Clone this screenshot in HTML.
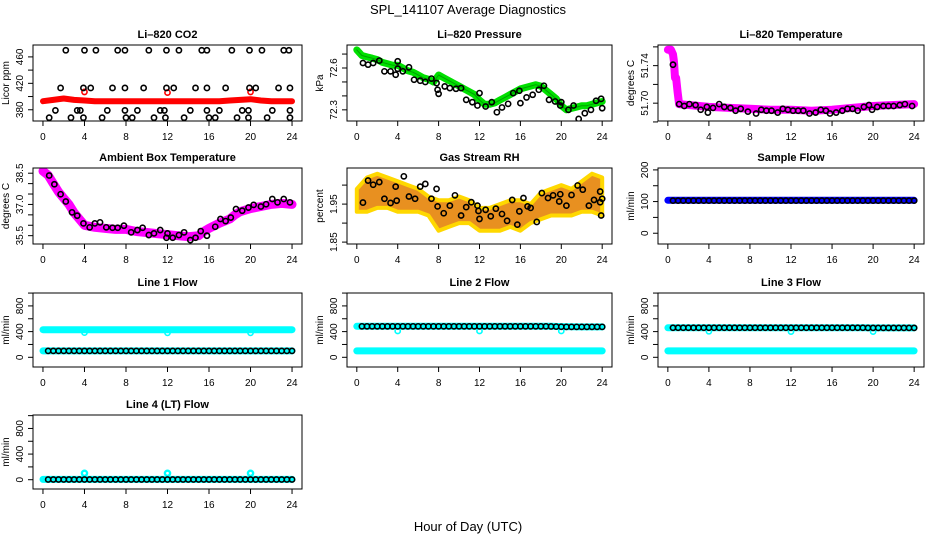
<!DOCTYPE html>
<html><head><meta charset="utf-8"><style>
html,body{margin:0;padding:0;background:#fff;}
svg{display:block;font-family:"Liberation Sans",Arial,sans-serif;}
</style></head><body>
<svg id="chart" width="936" height="540" viewBox="0 0 936 540">
<text x="468" y="14" text-anchor="middle" font-size="13">SPL_141107  Average Diagnostics</text>
<text x="468" y="531" text-anchor="middle" font-size="13">Hour of Day (UTC)</text>
</svg>
<script>
// ---------- data ----------
const hours = [0,1,2,3,4,5,6,7,8,9,10,11,12,13,14,15,16,17,18,19,20,21,22,23,24];
const halfHours = [0.5,1,1.5,2,2.5,3,3.5,4,4.5,5,5.5,6,6.5,7,7.5,8,8.5,9,9.5,10,10.5,11,11.5,12,12.5,13,13.5,14,14.5,15,15.5,16,16.5,17,17.5,18,18.5,19,19.5,20,20.5,21,21.5,22,22.5,23,23.5,24];
const xTicks = [0,4,8,12,16,20,24];

// CO2
const co2Red = [393,395,397,395,394,393,393,393,393,393,393,393,393,393,393,393,393,393,394,395,396,394,393,393,393];
const co2RedOutHours = [4,12,20];
const co2RedOutVals = [407,406,407];
const co2HighHours = [2.2,4.0,5.1,7.2,7.9,10.2,11.9,13.1,15.3,15.8,18.2,19.9,21.1,23.2,23.7];
const co2HighVal = 470;
const co2MidHours = [1.7,3.9,4.6,6.7,7.9,9.7,11.9,12.6,14.7,15.8,17.6,19.9,20.5,22.7,23.8];
const co2MidVal = 413;
const co2LowHours = [1.2,3.3,3.6,6.2,7.9,9.1,11.3,11.7,14.2,15.8,17.0,19.2,19.8,22.1,23.8];
const co2LowVal = 379;
const co2MinHours = [0.6,2.7,3.9,5.7,8.0,8.6,10.7,11.8,13.6,16.0,16.6,18.7,19.8,21.6,23.8];
const co2MinVal = 368;

// Pressure
const presGreenHours = [0,0.5,1,1.5,2,2.5,3,3.5,4,4.5,5,5.5,6,6.5,7,7.5,8,8.5,9,9.5,10,10.5,11,11.5,12,12.5,13,13.5,14,14.5,15,15.5,16,16.5,17,17.5,18,18.5,19,19.5,20,20.5,21,21.5,22,22.5,23,23.5,24];
const presGreen = [72.73,72.69,72.68,72.67,72.66,72.64,72.63,72.62,72.62,72.6,72.58,72.57,72.55,72.53,72.52,72.5,72.55,72.53,72.51,72.49,72.47,72.45,72.43,72.41,72.37,72.34,72.34,72.35,72.37,72.39,72.41,72.43,72.45,72.46,72.47,72.48,72.47,72.44,72.41,72.38,72.33,72.3,72.31,72.32,72.33,72.33,72.34,72.35,72.36];
const presBlackHours = [0.6,1.1,1.6,2.2,2.7,3.3,3.8,4.0,4.0,4.5,5.1,5.6,6.2,6.7,7.3,7.8,7.9,8.0,8.6,9.1,9.7,10.2,10.7,11.3,11.8,12.0,12.6,13.2,13.7,14.2,14.8,15.3,15.9,16.0,16.6,17.2,17.8,18.3,18.8,19.4,19.9,20.0,20.7,21.2,21.7,22.3,22.9,23.4,23.9,24.0];
const presBlack = [72.636,72.624,72.636,72.653,72.576,72.576,72.552,72.595,72.648,72.576,72.605,72.516,72.509,72.5,72.524,72.492,72.444,72.415,72.468,72.456,72.451,72.456,72.372,72.355,72.331,72.42,72.324,72.355,72.283,72.317,72.343,72.42,72.437,72.348,72.389,72.408,72.444,72.473,72.372,72.36,72.331,72.355,72.3,72.331,72.235,72.276,72.3,72.365,72.379,72.312];

// Li-820 temperature
const tempMagHours = [0,0.3,0.5,0.6,0.7,0.8,0.95,1.1,2,4,6,8,10,12,14,16,18,20,22,24];
const tempMag = [51.757,51.757,51.752,51.744,51.727,51.727,51.712,51.699,51.698,51.696,51.695,51.694,51.693,51.693,51.692,51.693,51.695,51.697,51.698,51.699];
const tempBlackHours = [0.5,1.1,1.6,2.1,2.7,3.2,3.8,3.9,4.4,5.0,5.5,6.1,6.6,7.1,7.8,8.6,9.1,9.6,10.1,10.7,11.2,11.7,12.2,12.7,13.2,13.8,14.4,14.9,15.4,15.8,16.4,17.0,17.5,18.0,18.5,19.1,19.6,19.9,20.4,21.0,21.5,22.0,22.6,23.1,23.8];
const tempBlack = [51.741,51.699,51.697,51.699,51.698,51.693,51.696,51.69,51.695,51.699,51.696,51.695,51.692,51.694,51.691,51.689,51.693,51.692,51.692,51.69,51.694,51.693,51.692,51.692,51.692,51.689,51.69,51.693,51.692,51.689,51.69,51.692,51.694,51.694,51.692,51.696,51.698,51.693,51.696,51.697,51.697,51.697,51.698,51.699,51.697];

// Ambient box temperature
const ambMagHours = [0,0.5,1,1.5,2,2.5,3,3.5,4,5,6,7,8,9,10,11,12,13,14,15,15.5,16,17,18,18.5,19,20,21,22,23,24];
const ambMag = [38.6,38.4,38.0,37.6,37.3,37.0,36.6,36.3,36.0,35.9,35.85,35.8,35.8,35.7,35.65,35.6,35.55,35.5,35.45,35.5,35.7,35.85,36.1,36.3,36.5,36.65,36.8,36.9,37.0,37.05,37.0];
const ambBlackHours = [0.6,1.1,1.7,2.2,2.8,3.3,3.9,4.5,5.0,5.5,6.1,6.7,7.2,7.8,8.5,9.1,9.6,10.2,10.7,11.3,11.9,12.0,12.5,13.1,13.6,14.2,14.7,15.2,15.8,16.6,17.1,17.6,18.1,18.6,19.2,19.8,20.3,21.0,21.5,22.1,22.6,23.2,23.8];
const ambBlack = [38.39,37.97,37.49,37.14,36.62,36.46,36.09,35.9,36.09,36.14,35.9,35.88,35.88,35.98,35.66,35.77,35.88,35.53,35.61,35.77,35.4,35.61,35.4,35.53,35.66,35.29,35.4,35.72,35.5,35.93,36.3,36.2,36.37,36.78,36.7,36.85,36.98,36.9,37.01,37.26,37.1,37.26,37.1];

// Gas stream RH
const rhUpper = [1.99,2.02,2.03,2.02,2.01,2.0,1.99,1.97,1.96,1.96,1.97,1.96,1.94,1.94,1.95,1.96,1.96,1.95,1.98,1.99,2.0,1.99,2.01,2.03,2.02];
const rhLower = [1.93,1.93,1.94,1.94,1.93,1.93,1.93,1.92,1.88,1.89,1.9,1.9,1.88,1.88,1.88,1.89,1.88,1.9,1.91,1.92,1.92,1.92,1.93,1.93,1.92];
const rhBlackHours = [0.6,1.1,1.6,2.2,2.7,3.3,3.8,3.9,4.6,5.1,5.7,6.2,6.7,7.3,7.8,7.9,8.5,9.1,9.6,10.2,10.7,11.2,11.8,11.9,12.0,12.6,13.1,13.6,14.2,14.7,15.2,15.7,15.9,16.3,16.7,17.0,17.6,18.1,18.7,19.2,19.8,19.9,20.5,21.0,21.6,22.1,22.7,23.2,23.8,23.8,23.9,24.0];
const rhBlack = [1.954,2.012,2.001,2.008,1.964,1.953,1.996,1.959,2.023,1.97,1.964,1.996,2.003,1.964,1.99,1.944,1.926,1.946,1.973,1.92,1.942,1.955,1.946,1.932,1.911,1.935,1.918,1.938,1.924,1.906,1.961,1.896,1.931,1.966,1.944,1.94,1.903,1.979,1.966,1.973,1.957,1.976,1.946,1.974,1.999,1.988,1.946,1.961,1.983,1.955,1.92,1.964];

// Sample flow
const sampleBlue = [104,104,104,104,104,104,104,104,104,104,104,104,104,104,104,104,104,104,104,104,104,104,104,104,104];
const sampleBlack = [103,103,103,103,103,103,103,103,103,103,103,103,103,103,103,103,103,103,103,103,103,103,103,103,103,103,103,103,103,103,103,103,103,103,103,103,103,103,103,103,103,103,103,103,103,103,103,103];

// Line flows
const dipHours = [4,12,20];
const line1CyanHigh = [430,430,430,430,430,430,430,430,430,430,430,430,430,430,430,430,430,430,430,430,430,430,430,430,430];
const line1CyanLow = [100,100,100,100,100,100,100,100,100,100,100,100,100,100,100,100,100,100,100,100,100,100,100,100,100];
const line1Dips = [385,380,380];
const line1Black = [100,100,100,100,100,100,100,100,100,100,100,100,100,100,100,100,100,100,100,100,100,100,100,100,100,100,100,100,100,100,100,100,100,100,100,100,100,100,100,100,100,100,100,100,100,100,100,100];
const line2CyanHigh = [482,482,482,482,482,482,482,482,482,482,482,482,482,482,482,482,482,482,482,482,478,476,474,474,474];
const line2CyanLow = [100,100,100,100,100,100,100,100,100,100,100,100,100,100,100,100,100,100,100,100,100,100,100,100,100];
const line2Dips = [410,410,410];
const line2Black = [482,482,482,482,482,482,482,482,482,482,482,482,482,482,482,482,482,482,482,482,482,482,482,482,482,482,482,482,482,482,482,482,482,482,482,482,482,480,478,476,474,474,474,474,474,474,474,474];
const line3CyanHigh = [460,460,460,460,460,460,460,460,460,460,460,460,460,460,460,460,460,460,460,460,458,458,458,458,458];
const line3CyanLow = [100,100,100,100,100,100,100,100,100,100,100,100,100,100,100,100,100,100,100,100,100,100,100,100,100];
const line3Dips = [405,400,400];
const line3Black = [460,460,460,460,460,460,460,460,460,460,460,460,460,460,460,460,460,460,460,460,460,460,460,460,460,460,460,460,460,460,460,460,460,460,460,460,460,460,458,458,458,458,458,458,458,458,458,458];
const line4Cyan = [5,5,5,5,5,5,5,5,5,5,5,5,5,5,5,5,5,5,5,5,5,5,5,5,5];
const line4Dips = [100,100,100];
const line4Black = [3,3,3,3,3,3,3,3,3,3,3,3,3,3,3,3,3,3,3,3,3,3,3,3,3,3,3,3,3,3,3,3,3,3,3,3,3,3,3,3,3,3,3,3,3,3,3,3];

// ---------- drawing ----------
const NS = 'http://www.w3.org/2000/svg';
const svg = document.getElementById('chart');
function mk(tag, attrs, parent) {
  const e = document.createElementNS(NS, tag);
  for (const k in attrs) e.setAttribute(k, attrs[k]);
  (parent || svg).appendChild(e);
  return e;
}
const cols = [[33,302],[347,612],[658,924]];
const rows = [[45,121],[168,244],[293,367],[415,489]];

function panel(name, col, row, title, ylab, yMin, yMax, yTicks, yLabels, dec) {
  const [l, r] = cols[col], [t, b] = rows[row];
  const g = mk('g', {});
  
  
  const xs = h => l + (h + 0.96) / 25.92 * (r - l);
  const ys = v => b - (v - yMin) / (yMax - yMin) * (b - t);
  const clip = mk('clipPath', {id: 'clip-' + name}, g);
  mk('rect', {x: l, y: t, width: r - l, height: b - t}, clip);
  const plot = mk('g', {'clip-path': 'url(#clip-' + name + ')'}, g);
  
  
  const box = mk('rect', {x: l, y: t, width: r - l, height: b - t, fill: 'none', stroke: '#000', 'stroke-width': 1}, g);
  
  
  const tt = mk('text', {x: (l + r) / 2, y: t - 7, 'text-anchor': 'middle', 'font-size': 11, 'font-weight': 'bold'}, g);
  tt.textContent = title;
  
  
  const yt = mk('text', {x: l - 24, y: (t + b) / 2, 'text-anchor': 'middle', 'font-size': 10, transform: 'rotate(-90 ' + (l - 24) + ' ' + ((t + b) / 2) + ')'}, g);
  yt.textContent = ylab;
  
  
  xTicks.forEach(h => {
    const x = xs(h);
    mk('line', {x1: x, x2: x, y1: b, y2: b + 5, stroke: '#000'}, g);
    const lb = mk('text', {x: x, y: b + 19, 'text-anchor': 'middle', 'font-size': 10}, g);
    lb.textContent = h;
    
    
  });
  yTicks.forEach(v => {
    const y = ys(v);
    mk('line', {x1: l - 5, x2: l, y1: y, y2: y, stroke: '#000'}, g);
  });
  yLabels.forEach(v => {
    const y = ys(v);
    const lb = mk('text', {x: l - 10, y: y, 'text-anchor': 'middle', 'font-size': 10, transform: 'rotate(-90 ' + (l - 10) + ' ' + y + ')'}, g);
    lb.textContent = v.toFixed(dec || 0);
    
    
  });
  return {g: plot, xs, ys};
}
function band(p, hs, vals, color, w, name) {
  const d = hs.map((h, i) => (i ? 'L' : 'M') + p.xs(h).toFixed(1) + ',' + p.ys(vals[i]).toFixed(1)).join('');
  const e = mk('path', {d, fill: 'none', stroke: color, 'stroke-width': w, 'stroke-linecap': 'round', 'stroke-linejoin': 'round'}, p.g);
  
  
}
function pts(p, hs, vals, color, name, r, sw) {
  hs.forEach((h, i) => {
    const v = Array.isArray(vals) ? vals[i] : vals;
    const c = mk('circle', {cx: p.xs(h), cy: p.ys(v), r: r || 2.6, fill: 'none', stroke: color, 'stroke-width': sw || 1.6}, p.g);
    
    
  });
}

// CO2
let p = panel('co2', 0, 0, 'Li\u2013820 CO2', 'Licor ppm', 363, 478, [380,400,420,440,460], [380,420,460], 0);
band(p, hours, co2Red, '#ff0000', 6, 'co2-red-series');
pts(p, co2RedOutHours, co2RedOutVals, '#ff0000', 'co2-red-outlier');
pts(p, co2HighHours, co2HighVal, '#000', 'co2-point');
pts(p, co2MidHours, co2MidVal, '#000', 'co2-point');
pts(p, co2LowHours, co2LowVal, '#000', 'co2-point');
pts(p, co2MinHours, co2MinVal, '#000', 'co2-point');

// Pressure
p = panel('pressure', 1, 0, 'Li\u2013820 Pressure', 'kPa', 72.22, 72.765, [72.3,72.4,72.5,72.6,72.7], [72.3,72.6], 1);
band(p, presGreenHours, presGreen, '#00e000', 7, 'pressure-green-series');
band(p, presGreenHours, presGreen, '#00a000', 1, 'pressure-green-core');
pts(p, presBlackHours, presBlack, '#000', 'pressure-point');

// Li-820 temp
p = panel('li820-temp', 2, 0, 'Li\u2013820 Temperature', 'degrees C', 51.681, 51.762, [51.68,51.70,51.72,51.74,51.76], [51.70,51.74], 2);
band(p, tempMagHours, tempMag, '#ff00ff', 8, 'li820-temp-magenta-series');
pts(p, tempBlackHours, tempBlack, '#000', 'li820-temp-point');

// Ambient
p = panel('ambient-temp', 0, 1, 'Ambient Box Temperature', 'degrees C', 35.1, 38.75, [35.5,36.0,36.5,37.0,37.5,38.0,38.5], [35.5,37.0,38.5], 1);
band(p, ambMagHours, ambMag, '#ff00ff', 9, 'ambient-temp-magenta-series');
pts(p, ambBlackHours, ambBlack, '#000', 'ambient-temp-point');

// RH
p = panel('rh', 1, 1, 'Gas Stream RH', 'percent', 1.845, 2.045, [1.85,1.90,1.95,2.00], [1.85,1.95], 2);
{
  const up = hours.map((h, i) => p.xs(h).toFixed(1) + ',' + p.ys(rhUpper[i]).toFixed(1));
  const lo = hours.map((h, i) => p.xs(h).toFixed(1) + ',' + p.ys(rhLower[i]).toFixed(1)).reverse();
  const e = mk('polygon', {points: up.concat(lo).join(' '), fill: '#e89020', stroke: '#ffd800', 'stroke-width': 4, 'stroke-linejoin': 'round'}, p.g);
  
  
}
pts(p, rhBlackHours, rhBlack, '#000', 'rh-point');

// Sample flow
p = panel('sample-flow', 2, 1, 'Sample Flow', 'ml/min', -34, 206, [0,50,100,150,200], [0,100,200], 0);
band(p, hours, sampleBlue, '#0000ff', 7, 'sample-flow-blue-series');
pts(p, halfHours, sampleBlack, '#000', 'sample-flow-point');

// Line 1
p = panel('line1-flow', 0, 2, 'Line 1 Flow', 'ml/min', -151, 1001, [0,200,400,600,800,1000], [0,400,800], 0);
band(p, hours, line1CyanHigh, '#00ffff', 7, 'line1-cyan-high');
band(p, hours, line1CyanLow, '#00ffff', 7, 'line1-cyan-low');
pts(p, dipHours, line1Dips, '#00ffff', 'line1-cyan-dip');
pts(p, halfHours, line1Black, '#000', 'line1-point');

// Line 2
p = panel('line2-flow', 1, 2, 'Line 2 Flow', 'ml/min', -151, 1001, [0,200,400,600,800,1000], [0,400,800], 0);
band(p, hours, line2CyanHigh, '#00ffff', 7, 'line2-cyan-high');
band(p, hours, line2CyanLow, '#00ffff', 7, 'line2-cyan-low');
pts(p, dipHours, line2Dips, '#00ffff', 'line2-cyan-dip');
pts(p, halfHours, line2Black, '#000', 'line2-point');

// Line 3
p = panel('line3-flow', 2, 2, 'Line 3 Flow', 'ml/min', -151, 1001, [0,200,400,600,800,1000], [0,400,800], 0);
band(p, hours, line3CyanHigh, '#00ffff', 7, 'line3-cyan-high');
band(p, hours, line3CyanLow, '#00ffff', 7, 'line3-cyan-low');
pts(p, dipHours, line3Dips, '#00ffff', 'line3-cyan-dip');
pts(p, halfHours, line3Black, '#000', 'line3-point');

// Line 4
p = panel('line4-flow', 0, 3, 'Line 4 (LT) Flow', 'ml/min', -145, 1010, [0,200,400,600,800,1000], [0,400,800], 0);
band(p, hours, line4Cyan, '#00ffff', 7, 'line4-cyan-series');
pts(p, dipHours, line4Dips, '#00ffff', 'line4-cyan-outlier', 2.6, 2.4);
pts(p, halfHours, line4Black, '#000', 'line4-point');
</script>
</body></html>
